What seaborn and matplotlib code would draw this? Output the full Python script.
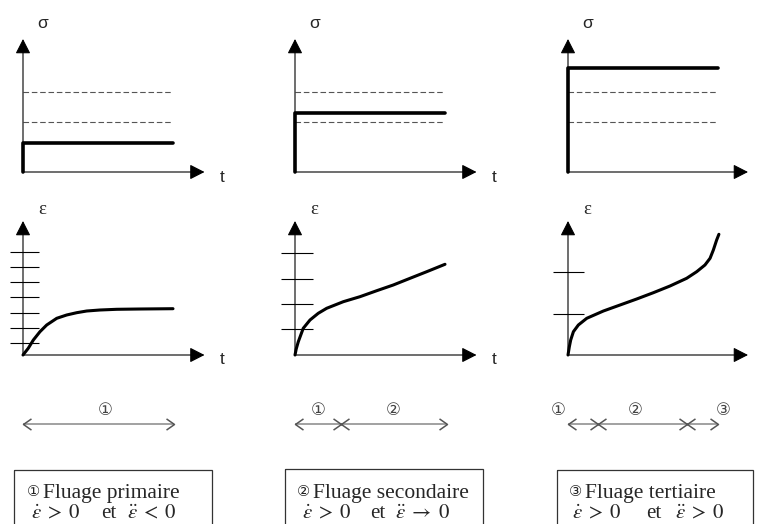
import matplotlib
matplotlib.use("Agg")
import matplotlib.pyplot as plt
from matplotlib.patches import Rectangle
from matplotlib.path import Path
import pandas as pd
import seaborn as sns

sns.set_style("white")
plt.rcParams["font.family"] = ["Liberation Sans", "DejaVu Sans"]
plt.rcParams["mathtext.fontset"] = "stix"

W, H = 760, 524
PX_T = 150.0   # pixels per unit of time
PX_V = 100.0   # pixels per unit of stress / strain

# ---- layout of the three columns (origin of each t axis, in pixels)
col_x0 = [23, 295, 568]
top_y0 = 172
bot_y0 = 355

# ---- stress history
sigma_ref = [0.50, 0.80]              # dashed reference levels
sigma_applied = [0.29, 0.59, 1.04]    # applied stress for each creep regime
t_end = 1.0
sigma_axis_len = [1.33, 1.33, 1.33]
t_axis_len = [1.21, 1.21, 1.20]

# ---- strain response
eps_primary_t = [0, 0.035, 0.069, 0.113, 0.158, 0.225, 0.291, 0.358, 0.425, 0.513, 0.625, 0.78, 1.0]
eps_primary = [0, 0.067, 0.15, 0.233, 0.30, 0.367, 0.40, 0.423, 0.44, 0.45, 0.457, 0.46, 0.463]

eps_secondary_t = [0, 0.008, 0.022, 0.055, 0.1, 0.155, 0.211, 0.322, 0.433, 0.545, 0.655, 0.767, 0.878, 1.0]
eps_secondary = [0, 0.06, 0.133, 0.267, 0.35, 0.417, 0.467, 0.533, 0.583, 0.643, 0.70, 0.767, 0.833, 0.907]

eps_tertiary_t = [0, 0.009, 0.018, 0.036, 0.069, 0.125, 0.236, 0.347, 0.458, 0.569, 0.68,
                  0.791, 0.858, 0.913, 0.947, 0.969, 0.991, 1.006]
eps_tertiary = [0, 0.083, 0.15, 0.233, 0.30, 0.367, 0.44, 0.50, 0.56, 0.623, 0.69,
                0.767, 0.833, 0.90, 0.967, 1.05, 1.15, 1.207]

eps_curves = [(eps_primary_t, eps_primary), (eps_secondary_t, eps_secondary),
              (eps_tertiary_t, eps_tertiary)]
eps_axis_len = [1.34, 1.34, 1.34]
eps_ticks = [[1.03, 0.88, 0.73, 0.58, 0.42, 0.27, 0.12],
             [1.02, 0.76, 0.51, 0.26],
             [0.83, 0.41]]
eps_tick_span = [(-0.087, 0.107), (-0.093, 0.12), (-0.10, 0.107)]
show_t_label = [True, True, False]

# ---- creep phases along the time axis
phase_bounds = [[0, 1.01], [0, 0.307, 1.01], [0, 0.20, 0.793, 1.0]]
phase_marks = [["①"], ["①", "②"], ["①", "②", "③"]]
phase_mark_t = [[0.547], [0.153, 0.653], [-0.067, 0.447, 1.033]]

# ---- captions
box_digits = ["①", "②", "③"]
box_titles = ["Fluage primaire", "Fluage secondaire", "Fluage tertiaire"]
box_rate = [r"$\dot{\varepsilon}\;>\;0$"] * 3
box_accel = [r"$\ddot{\varepsilon}\;<\;0$", r"$\ddot{\varepsilon}\;\rightarrow\;0$",
             r"$\ddot{\varepsilon}\;>\;0$"]

# open chevrons and crossed heads for the phase arrows (tip at the marker origin)
M, L = Path.MOVETO, Path.LINETO
chevron_left = Path([(1, 0.7), (0, 0), (1, -0.7)], [M, L, L])
chevron_right = Path([(-1, 0.7), (0, 0), (-1, -0.7)], [M, L, L])
crossed = Path([(-1, 0.7), (1, -0.7), (-1, -0.7), (1, 0.7)], [M, L, M, L])

fig = plt.figure(figsize=(W / 100, H / 100), dpi=100)

# background axes in pixel units for the caption boxes
bg = fig.add_axes([0, 0, 1, 1])
bg.set_xlim(0, W)
bg.set_ylim(H, 0)
bg.axis("off")

box_left = [14, 285, 557]
box_right = [212, 483, 753]
box_top = [470, 469, 470]
digit_x = [33, 303, 575]
title_x = [43, 313, 585]
rate_x = [31, 302, 572]
et_x = [101, 370, 646]
accel_x = [127, 395, 675]

serif = ["Liberation Serif", "DejaVu Serif"]
for i in range(3):
    bg.add_patch(Rectangle((box_left[i], box_top[i]), box_right[i] - box_left[i], 80,
                           fill=False, edgecolor="#333333", lw=0.9))
    bg.text(digit_x[i], 491, box_digits[i], family=["DejaVu Sans"], fontsize=10.5,
            ha="center", va="center", color="#222222")
    bg.text(title_x[i], 498, box_titles[i], family=serif, fontsize=15.5,
            ha="left", va="baseline")
    bg.text(rate_x[i], 518, box_rate[i], family=serif, fontsize=15, ha="left", va="baseline")
    bg.text(et_x[i], 518, "et", family=serif, fontsize=15, ha="left", va="baseline")
    bg.text(accel_x[i], 518, box_accel[i], family=serif, fontsize=15, ha="left", va="baseline")


def panel(x0, y0, top, bottom):
    left = x0 - 25
    right = min(x0 + 215, W)
    ax = fig.add_axes([left / W, 1 - bottom / H, (right - left) / W, (bottom - top) / H])
    ax.set_xlim((left - x0) / PX_T, (right - x0) / PX_T)
    ax.set_ylim((y0 - bottom) / PX_V, (y0 - top) / PX_V)
    ax.axis("off")
    ax.patch.set_alpha(0)
    return ax


def axis_arrow(ax, x1, y1):
    ax.annotate("", xy=(x1, y1), xytext=(0, 0), annotation_clip=False,
                arrowprops=dict(arrowstyle="-|>,head_length=9,head_width=4.6",
                                mutation_scale=1, lw=0.8, color="black",
                                shrinkA=0, shrinkB=0))


label_font = dict(family=["Liberation Sans", "DejaVu Sans"], fontsize=12.5, ha="center", va="center")

for i, x0 in enumerate(col_x0):
    # stress history
    ax = panel(x0, top_y0, 0, 192)
    axis_arrow(ax, 0, sigma_axis_len[i])
    axis_arrow(ax, t_axis_len[i], 0)
    for lvl in sigma_ref:
        ax.hlines(lvl, 0, 0.99, colors="#555555", lw=0.8, linestyles=(0, (5, 2.5)))
    step = pd.DataFrame({"t": [0, 0, t_end], "sigma": [0, sigma_applied[i], sigma_applied[i]]})
    sns.lineplot(data=step, x="t", y="sigma", ax=ax, estimator=None, sort=False,
                 color="black", lw=2.6, legend=False)
    ax.text(0.13, 1.49, "σ", **label_font)
    if show_t_label[i]:
        ax.text(t_axis_len[i] + 0.12, -0.06, "t", **label_font)

    # strain response
    ax = panel(x0, bot_y0, 195, 445)
    axis_arrow(ax, 0, eps_axis_len[i])
    axis_arrow(ax, t_axis_len[i], 0)
    a, b = eps_tick_span[i]
    ax.hlines(eps_ticks[i], a, b, colors="black", lw=0.8)
    ct, ce = eps_curves[i]
    curve = pd.DataFrame({"t": ct, "eps": ce})
    sns.lineplot(data=curve, x="t", y="eps", ax=ax, estimator=None, sort=False,
                 color="black", lw=2.2, legend=False)
    ax.text(0.13, 1.46, "ε", family=serif, fontsize=13.5, ha="center", va="center")
    if show_t_label[i]:
        ax.text(t_axis_len[i] + 0.12, -0.04, "t", **label_font)

    # creep phases: a span line with open heads at the ends and crossed heads at boundaries
    bounds = phase_bounds[i]
    v_row = (bot_y0 - 424) / PX_V
    ax.plot([bounds[0], bounds[-1]], [v_row, v_row], color="#888888", lw=1.1,
            solid_capstyle="butt", clip_on=False)
    head = dict(ls="none", ms=11.5, mew=1.1, mfc="none", mec="#555555", clip_on=False)
    ax.plot([bounds[0]], [v_row], marker=chevron_left, **head)
    ax.plot([bounds[-1]], [v_row], marker=chevron_right, **head)
    if len(bounds) > 2:
        ax.plot(bounds[1:-1], [v_row] * (len(bounds) - 2), marker=crossed, **head)
    for m, tm in zip(phase_marks[i], phase_mark_t[i]):
        ax.text(tm, (bot_y0 - 410) / PX_V, m, family=["DejaVu Sans"], fontsize=12,
                ha="center", va="center", color="#444444")

fig.savefig("out.png", dpi=100)
